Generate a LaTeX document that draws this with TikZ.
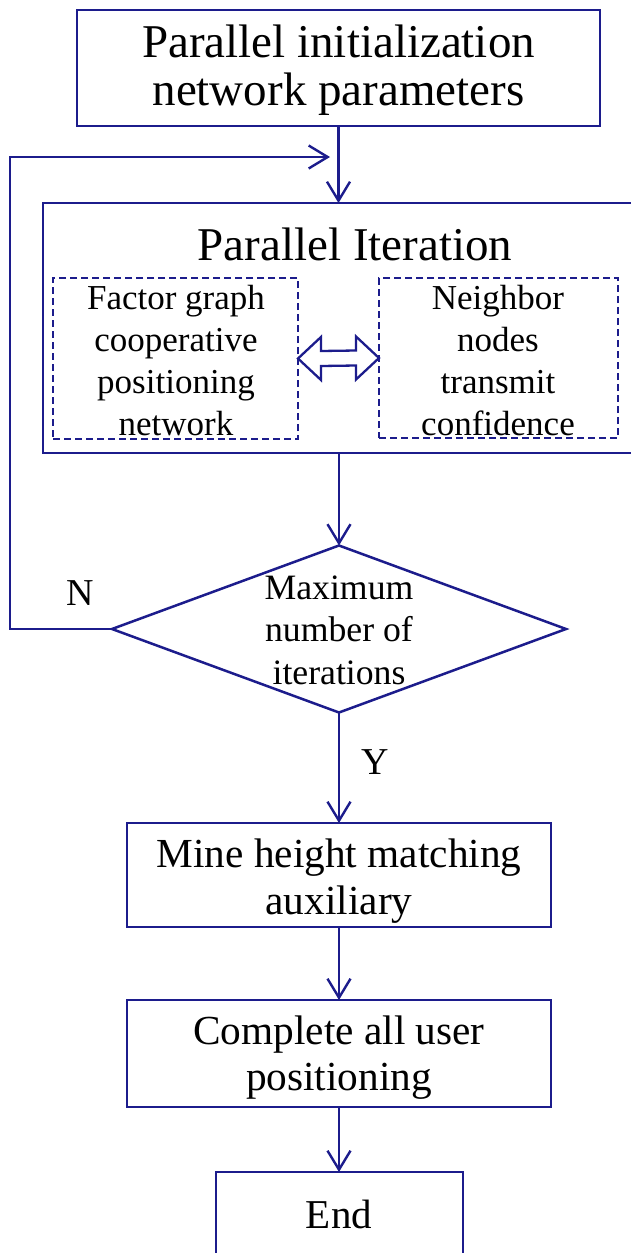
\documentclass[tikz,border=0pt]{standalone}
\usepackage{fontspec}
\setmainfont{Liberation Serif}
\usetikzlibrary{shapes.geometric,arrows.meta,calc}
\definecolor{navy}{RGB}{28,28,140}
\begin{document}
\begin{tikzpicture}[x=1pt,y=-1pt,
  box/.style={draw=navy,line width=2.5pt,rectangle,inner sep=0pt,outer sep=0pt,anchor=north west},
  dbox/.style={draw=navy,line width=2.3pt,dash pattern=on 7pt off 4pt,rectangle,inner sep=0pt,outer sep=0pt,anchor=north west},
  arr/.style={draw=navy,line width=2.4pt,-{Straight Barb[length=19pt,width=23pt]}},
  txt/.style={align=center,inner sep=0pt,text=black}]
\useasboundingbox[fill=white] (0,0) rectangle (630,1253);

% boxes
\node[box,minimum width=523pt,minimum height=116pt] (init) at (77,10) {};
\node[txt,font=\fontsize{47}{48}\selectfont] (initT) at (338.5,72) {\strut Parallel initialization\\\strut network parameters};

\node[box,minimum width=597pt,minimum height=250pt] (iter) at (43,203) {};
\node[txt,font=\fontsize{47}{50}\selectfont] (iterT) at (355,244) {Parallel Iteration};

\node[dbox,minimum width=245pt,minimum height=161pt] (fg) at (53,278) {};
\node[dbox,minimum width=239pt,minimum height=160pt] (nb) at (379,278) {};
\node[txt,font=\fontsize{35}{42}\selectfont] (fgT) at (176,363.6) {\strut Factor graph\\\strut cooperative\\\strut positioning\\\strut network};
\node[txt,font=\fontsize{35}{42}\selectfont] (nbT) at (498,363.6) {\strut Neighbor\\\strut nodes\\\strut transmit\\\strut confidence};

\node[draw=navy,line width=2.5pt,diamond,minimum width=454pt,minimum height=167pt,inner sep=0pt,outer sep=0pt] (dec) at (339,629) {};
\node[txt,font=\fontsize{35.7}{42.5}\selectfont] (decT) at (339,633) {\strut Maximum\\\strut number of\\\strut iterations};

\node[box,minimum width=424pt,minimum height=104pt] (mine) at (127,823) {};
\node[txt,font=\fontsize{41.3}{47}\selectfont] (mineT) at (339,881.6) {\strut Mine height matching\\\strut auxiliary};

\node[box,minimum width=424pt,minimum height=107pt] (comp) at (127,1000) {};
\node[txt,font=\fontsize{41.3}{46}\selectfont] (compT) at (339,1058.3) {\strut Complete all user\\\strut positioning};

\node[box,minimum width=247pt,minimum height=100pt] (endb) at (216,1172) {};
\node[txt,font=\fontsize{41}{48}\selectfont] (endT) at (339,1214) {End};

\node[txt,font=\fontsize{38}{44}\selectfont] (lN) at (80,593) {N};
\node[txt,font=\fontsize{38}{44}\selectfont] (lY) at (375,762) {Y};

% double arrow
\draw[navy,line width=2.3pt,fill=white] (fg.east) -- ++(23,-21.5) -- ++(0,14) -- ($(nb.west)+(-23,-7.5)$) -- ++(0,-14) -- (nb.west) -- ++(-23,21.5) -- ++(0,-14) -- ($(fg.east)+(23,7.5)$) -- ++(0,14) -- cycle;

% connectors
\draw[arr] (init.south) -- (init.south |- iter.north);
\draw[arr] (dec.north |- iter.south) -- (dec.north);
\draw[arr] (dec.south) -- (dec.south |- mine.north);
\draw[arr] (mine.south -| dec.south) -- (dec.south |- comp.north);
\draw[arr] (comp.south -| dec.south) -- (dec.south |- endb.north);
\coordinate (fbL) at (10,629);
\coordinate (fbT) at (10,157);
\coordinate (fbE) at (330,157);
\draw[arr] (dec.west) -- (fbL) -- (fbT) -- (fbE);
\end{tikzpicture}
\end{document}
